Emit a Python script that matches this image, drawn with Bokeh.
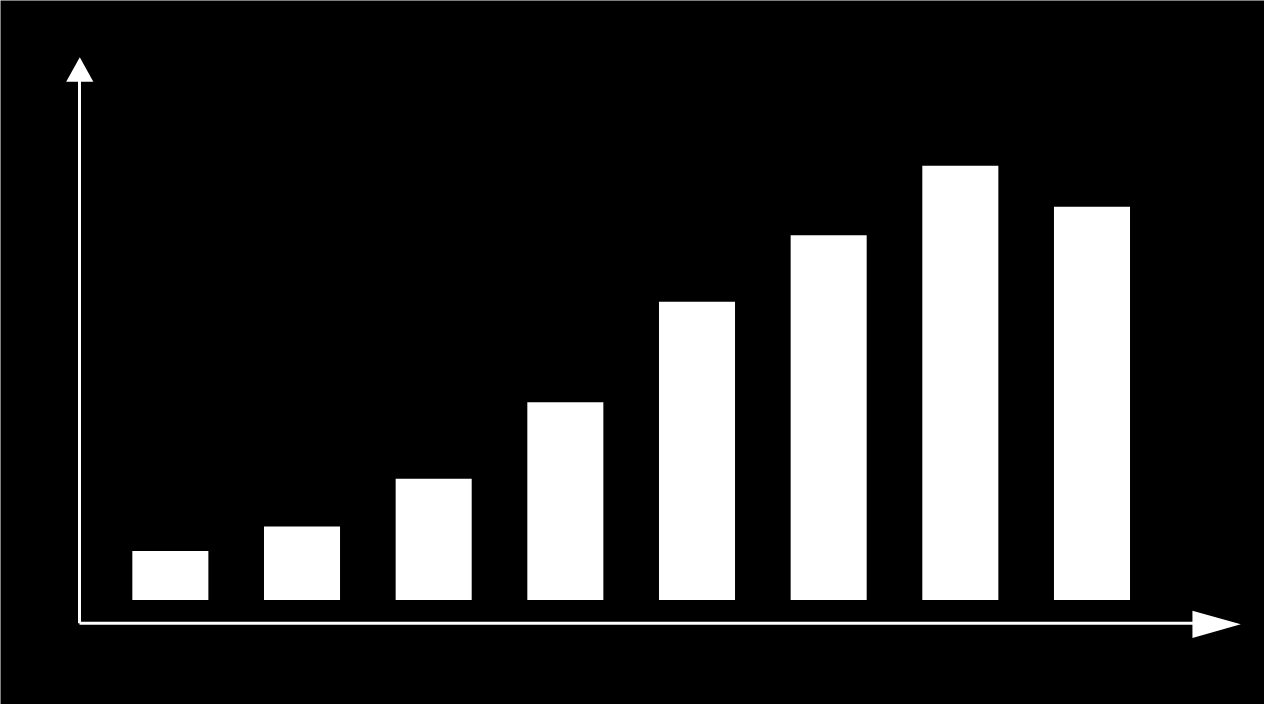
from bokeh.plotting import figure
from bokeh.models import Range1d
from bokeh.embed import file_html
from bokeh.resources import INLINE

# data
categories = [0, 1, 2, 3, 4, 5, 6, 7]
values = [1.0, 1.5, 2.48, 4.04, 6.1, 7.46, 8.88, 8.04]

W, H = 1264, 704
REF_W, REF_H = 1280, 720
X0_PX, X_STEP = 172.0, 133.33   # reference layout: first category centre, spacing
Y0_PX, Y_STEP = 613.0, 50.0     # reference layout: baseline, px per unit


def dx(rx):
    return (rx - X0_PX) / X_STEP


def dy(ry):
    return (Y0_PX - ry) / Y_STEP


p = figure(width=W, height=H, output_backend="svg", toolbar_location=None,
           x_range=Range1d(dx(0), dx(REF_W)), y_range=Range1d(dy(REF_H), dy(0)),
           min_border=0, background_fill_color="black", border_fill_color="black",
           outline_line_color=None)
p.axis.visible = False
p.grid.visible = False

p.vbar(x=categories, top=values, bottom=0, width=77 / X_STEP,
       fill_color="white", line_color=None)

# axes lines
p.line([dx(80), dx(80)], [dy(637), dy(82)], line_color="white", line_width=3)
p.line([dx(80), dx(1208)], [dy(637), dy(637)], line_color="white", line_width=3)
# arrow heads
p.patch([dx(66.5), dx(94), dx(80.3)], [dy(83), dy(83), dy(58)], fill_color="white", line_color=None)
p.patch([dx(1207), dx(1207), dx(1256)], [dy(624), dy(652), dy(638)], fill_color="white", line_color=None)

open("out.html", "w").write(file_html(p, INLINE))
